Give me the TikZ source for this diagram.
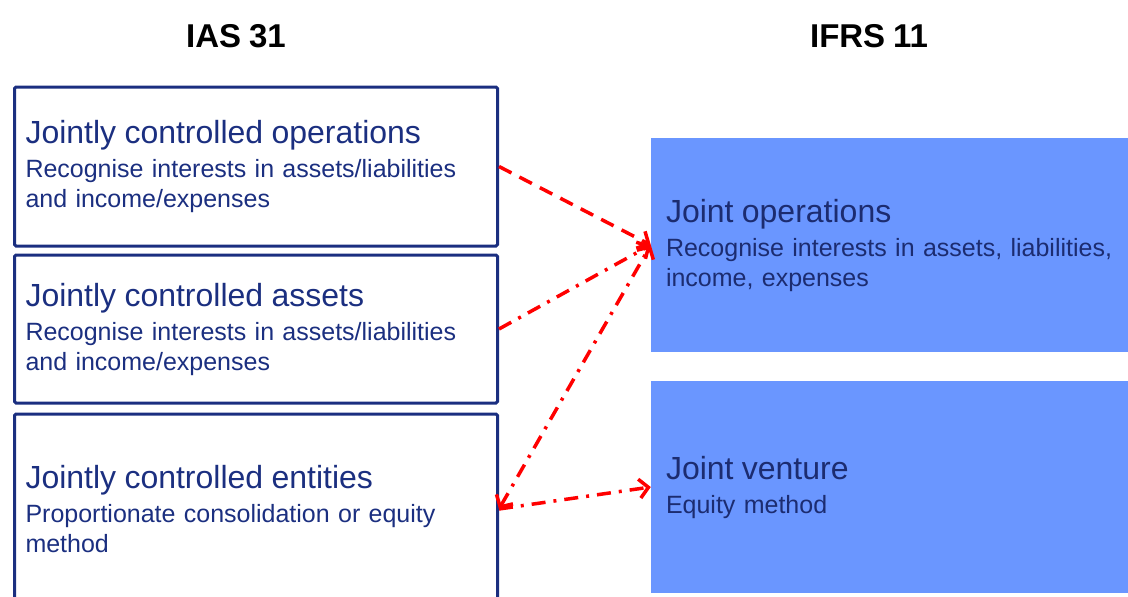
\documentclass[tikz,border=0pt]{standalone}
\usepackage{fontspec}
\setmainfont[WordSpace=0.85]{Liberation Sans}
\usetikzlibrary{arrows.meta,positioning}

\definecolor{navy}{HTML}{1B2F80}
\definecolor{deepnavy}{HTML}{1C2C70}
\definecolor{boxblue}{HTML}{6A96FF}
\definecolor{linkred}{HTML}{FF0000}

\newcommand{\boxtitle}[1]{{\fontsize{32}{33}\selectfont #1}\\[4pt]}

\tikzset{
  heading/.style={font=\fontsize{33}{36}\selectfont\bfseries, anchor=base},
  oldbox/.style={draw=navy, line width=3pt, rounded corners=1.5pt, text width=461pt,
    inner xsep=11pt, align=left, text=navy, font=\fontsize{25}{30}\selectfont},
  newbox/.style={fill=boxblue, text width=459pt, inner xsep=15pt, align=left,
    text=deepnavy, font=\fontsize{25}{30}\selectfont},
  link/.style={draw=linkred, line width=3.5pt},
  dashlink/.style={link, dash pattern=on 14pt off 9pt},
  dotlink/.style={link, dash pattern=on 14pt off 8pt on 3pt off 8pt}
}

\begin{document}
\begin{tikzpicture}[x=1pt, y=-1pt, >={Straight Barb[length=9pt, width=19pt]}]
    \useasboundingbox (0,0) rectangle (1128,597);

    % Column headings
    \node[heading] (ias) at (236,47) {IAS 31};
    \node[heading] (ifrs) at (869,47) {IFRS 11};

    % Old categories
    \node[oldbox, minimum height=159pt] (jco) at (256,166.5)
        {\boxtitle{Jointly controlled operations}Recognise interests in assets/liabilities\\ and income/expenses};
    \node[oldbox, minimum height=148pt] (jca) at (256,329)
        {\boxtitle{Jointly controlled assets}Recognise interests in assets/liabilities\\ and income/expenses};
    \node[oldbox, minimum height=190pt] (jce) at (256,509)
        {\boxtitle{Jointly controlled entities}Proportionate consolidation or equity\\ method};

    % New categories
    \node[newbox, minimum height=214pt] (jo) at (895.5,245)
        {\boxtitle{Joint operations}Recognise interests in assets, liabilities,\\ income, expenses};
    \node[newbox, minimum height=212pt] (jv) at (895.5,487)
        {\boxtitle{Joint venture}Equity method};

    % Mapping arrows
    \draw[dashlink, ->] (jco.east) -- (jo.west);
    \draw[dotlink, ->] (jca.east) -- (jo.west);
    \draw[dotlink, <->] (jce.east) -- (jo.west);
    \draw[dotlink, ->] (jce.east) -- (jv.west);
\end{tikzpicture}
\end{document}
